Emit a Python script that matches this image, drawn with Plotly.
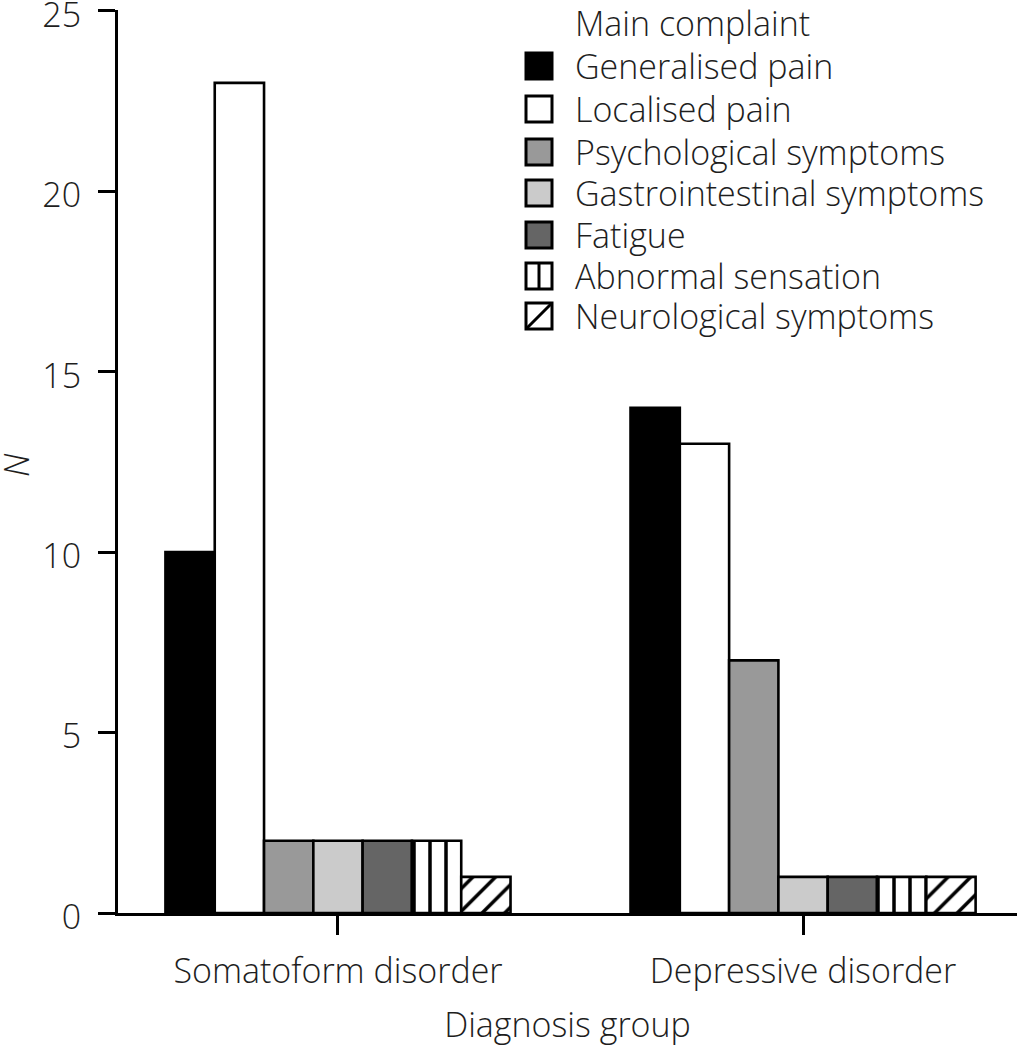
import plotly.graph_objects as go

groups = ["Somatoform disorder", "Depressive disorder"]
complaints = [
    "Generalised pain",
    "Localised pain",
    "Psychological symptoms",
    "Gastrointestinal symptoms",
    "Fatigue",
    "Abnormal sensation",
    "Neurological symptoms",
]
generalised_pain = [10, 14]
localised_pain = [23, 13]
psychological = [2, 7]
gastrointestinal = [2, 1]
fatigue = [2, 1]
abnormal_sensation = [2, 1]
neurological = [1, 1]
series = [generalised_pain, localised_pain, psychological, gastrointestinal,
          fatigue, abnormal_sensation, neurological]

fills = ["#000000", "#ffffff", "#999999", "#cbcbcb", "#656565", "#ffffff", "#ffffff"]
patterns = ["", "", "", "", "", "|", "/"]

W, H = 1019, 1047
# plot area in screen pixels: x 118..1017, y 10..913
L, T = 118, 10
R = W - 1017
B = H - 913
FONT = "Open Sans"
FS = 34
TXT = "#1e1e1e"
font = dict(family=FONT, size=FS, color=TXT, weight=300)

fig = go.Figure()
for name, vals, col, pat in zip(complaints, series, fills, patterns):
    mp = dict(shape=pat, fgcolor="#000000", bgcolor="#ffffff", fgopacity=1,
              size=16, solidity=0.22) if pat else dict(shape="")
    fig.add_trace(go.Bar(
        x=groups, y=vals, name=name, showlegend=False,
        marker=dict(color=col, line=dict(color="#000000", width=2.6), pattern=mp),
    ))

# custom legend (pixel layout converted to paper coords)
pw = W - L - R
ph = H - T - B
def px(x):
    return (x - L) / pw
def py(y):
    return (H - B - y) / ph

shapes = []
annotations = []
annotations.append(dict(text="Main complaint", x=px(573), y=py(23), xref="paper", yref="paper",
                        xanchor="left", yanchor="middle", showarrow=False, font=font))
centers = [66, 109, 152, 193, 235, 276, 316]
for i, (name, col, pat) in enumerate(zip(complaints, fills, patterns)):
    cy = centers[i]
    x0, x1 = 526, 552
    y0, y1 = cy - 13, cy + 13
    shapes.append(dict(type="rect", xref="paper", yref="paper",
                       x0=px(x0), x1=px(x1), y0=py(y1), y1=py(y0),
                       fillcolor=col, line=dict(color="#000000", width=3)))
    if pat == "|":
        shapes.append(dict(type="line", xref="paper", yref="paper",
                           x0=px((x0 + x1) / 2), x1=px((x0 + x1) / 2), y0=py(y1), y1=py(y0),
                           line=dict(color="#000000", width=3)))
    if pat == "/":
        shapes.append(dict(type="line", xref="paper", yref="paper",
                           x0=px(x0), x1=px(x1), y0=py(y1), y1=py(y0),
                           line=dict(color="#000000", width=3)))
    annotations.append(dict(text=name, x=px(573), y=py(cy), xref="paper", yref="paper",
                            xanchor="left", yanchor="middle", showarrow=False, font=font))

# y-axis title "N" (italic, rotated)
annotations.append(dict(text="<i>N</i>", x=px(16), y=py(465), xref="paper", yref="paper",
                        xanchor="center", yanchor="middle", textangle=-90,
                        showarrow=False, font=font))

fig.update_layout(
    width=W, height=H,
    margin=dict(l=L, r=R, t=T, b=B, pad=0),
    paper_bgcolor="white", plot_bgcolor="white",
    barmode="group", bargap=0.258, bargroupgap=0,
    font=font,
    shapes=shapes, annotations=annotations,
    xaxis=dict(
        type="category", range=[-0.473, 1.46], automargin=False,
        showline=True, linecolor="#000000", linewidth=3,
        ticks="outside", ticklen=19, tickwidth=3, tickcolor="#000000",
        showgrid=False, zeroline=False,
        tickfont=font, ticklabelstandoff=7,
        title=dict(text="Diagnosis group", standoff=22, font=font),
    ),
    yaxis=dict(
        range=[0, 25.02], tickvals=[0, 5, 10, 15, 20, 25], automargin=False,
        ticklabeloverflow="allow", ticklabelshift=4,
        showline=True, linecolor="#000000", linewidth=3,
        ticks="outside", ticklen=17, tickwidth=3, tickcolor="#000000",
        showgrid=False, zeroline=False,
        tickfont=font, ticklabelstandoff=10,
    ),
)

fig.write_html(
    "out.html",
    config={"displayModeBar": False},
    post_script="document.body.style.margin='0';document.body.style.padding='0';",
)
